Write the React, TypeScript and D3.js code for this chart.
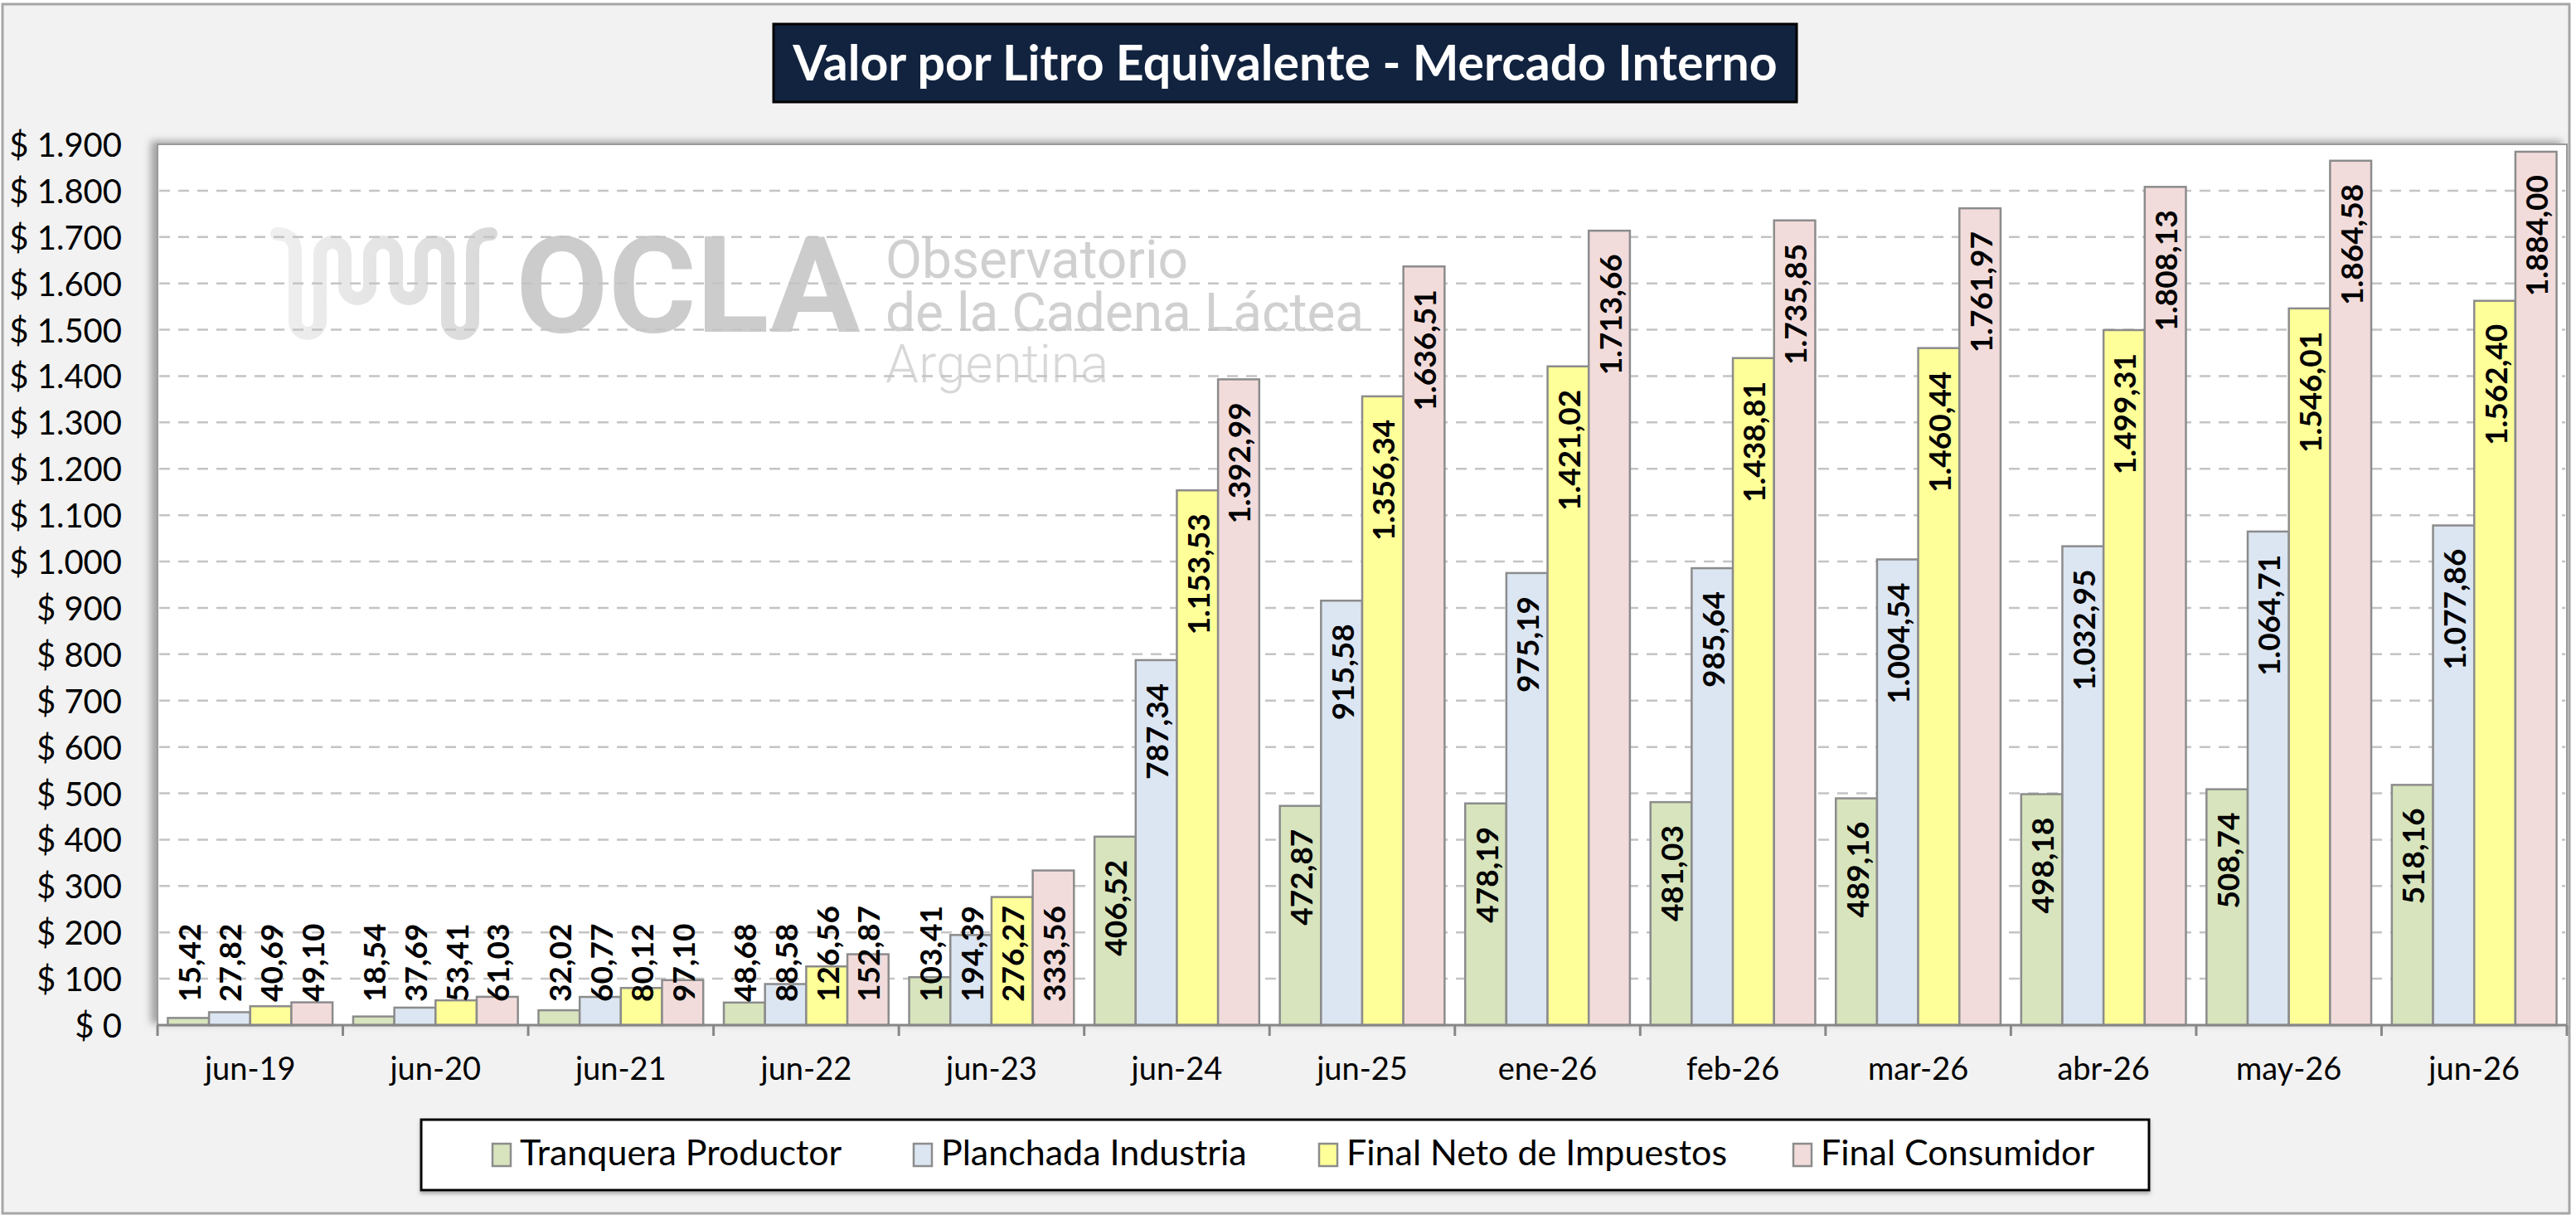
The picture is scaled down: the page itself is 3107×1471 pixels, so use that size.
import React from 'react';
import * as d3 from 'd3';

const categories = ['jun-19', 'jun-20', 'jun-21', 'jun-22', 'jun-23', 'jun-24', 'jun-25', 'ene-26', 'feb-26', 'mar-26', 'abr-26', 'may-26', 'jun-26'];
const seriesNames = ['Tranquera Productor', 'Planchada Industria', 'Final Neto de Impuestos', 'Final Consumidor'];
const tranquera = [15.42, 18.54, 32.02, 48.68, 103.41, 406.52, 472.87, 478.19, 481.03, 489.16, 498.18, 508.74, 518.16];
const planchada = [27.82, 37.69, 60.77, 88.58, 194.39, 787.34, 915.58, 975.19, 985.64, 1004.54, 1032.95, 1064.71, 1077.86];
const finalNeto = [40.69, 53.41, 80.12, 126.56, 276.27, 1153.53, 1356.34, 1421.02, 1438.81, 1460.44, 1499.31, 1546.01, 1562.4];
const finalConsumidor = [49.1, 61.03, 97.1, 152.87, 333.56, 1392.99, 1636.51, 1713.66, 1735.85, 1761.97, 1808.13, 1864.58, 1884.0];
const labelPlacement = ['base', 'base', 'base', 'base', 'base', 'end', 'end', 'end', 'end', 'end', 'end', 'end', 'end'];
const yTicks = [0, 100, 200, 300, 400, 500, 600, 700, 800, 900, 1000, 1100, 1200, 1300, 1400, 1500, 1600, 1700, 1800, 1900];
const seriesColors = ['#D7E4BD', '#DCE6F2', '#FFFF99', '#F2DCDB'];
const titleText = 'Valor por Litro Equivalente - Mercado Interno';

const W = 3107;
const H = 1471;
const plot = { left: 190, right: 3096, top: 174, bottom: 1236 };

const locale = d3.formatLocale({ decimal: ',', thousands: '.', grouping: [3], currency: ['$ ', ''] });
const fmtVal = locale.format(',.2f');
const fmtTick = locale.format(',.0f');

const CAL = 'Lato, "Open Sans", sans-serif';

function wavePath(): string {
  const p = d3.path();
  const T = 292, B = 402, M = 360;
  const legs = [356, 386, 416, 446, 478, 508, 540, 570];
  const bottoms = [B, M, M, B];
  p.moveTo(334, 282);
  p.quadraticCurveTo(356, 282, 356, 304);
  for (let i = 0; i < 4; i++) {
    const a = legs[2 * i];
    const b = legs[2 * i + 1];
    const r = (b - a) / 2;
    const yb = bottoms[i];
    p.lineTo(a, yb - r);
    p.arc(a + r, yb - r, r, Math.PI, 0, true);
    if (i < 3) {
      const c = legs[2 * i + 2];
      const r2 = (c - b) / 2;
      p.lineTo(b, T + r2);
      p.arc(b + r2, T + r2, r2, Math.PI, 0, false);
    } else {
      p.lineTo(b, 304);
      p.quadraticCurveTo(570, 282, 592, 282);
    }
  }
  return p.toString();
}

export default function App() {
  const x0 = d3.scaleBand<string>().domain(categories).range([plot.left, plot.right]).paddingInner(0).paddingOuter(0);
  const x1 = d3.scaleBand<string>().domain(seriesNames).range([0, x0.bandwidth()]).paddingInner(0).paddingOuter(0.25);
  const y = d3.scaleLinear().domain([0, 1900]).range([plot.bottom, plot.top]);
  const allSeries = [tranquera, planchada, finalNeto, finalConsumidor];

  const boundaries = categories.map((c) => x0(c) as number).concat([plot.right]);

  const legendX = [594, 1102, 1591, 2163];

  return (
    <div style={{ position: 'absolute', left: 0, top: 0 }}>
      <svg width={W} height={H} viewBox={`0 0 ${W} ${H}`} style={{ display: 'block' }}>
        <defs>
          <filter id="plotShadow" x="-5%" y="-5%" width="110%" height="110%">
            <feDropShadow dx={-7} dy={-3} stdDeviation={5} floodColor="#7f7f7f" floodOpacity={0.7} />
          </filter>
          <filter id="legShadow" x="-5%" y="-20%" width="110%" height="140%">
            <feDropShadow dx={0} dy={3} stdDeviation={2} floodColor="#808080" floodOpacity={0.6} />
          </filter>
          <linearGradient id="waveGrad" x1="0" x2="1" y1="0" y2="0">
            <stop offset="0" stopColor="#efefef" />
            <stop offset="1" stopColor="#d9d9d9" />
          </linearGradient>
        </defs>

        {/* chart area */}
        <rect x={3} y={5} width={3096} height={1458} fill="#F2F2F2" stroke="#A6A6A6" strokeWidth={3} />

        {/* plot area */}
        <rect x={plot.left} y={plot.top} width={plot.right - plot.left} height={plot.bottom - plot.top}
          fill="#FFFFFF" stroke="#9A9A9A" strokeWidth={2} filter="url(#plotShadow)" />

        {/* watermark */}
        <g>
          <path d={wavePath()} fill="none" stroke="url(#waveGrad)" strokeWidth={16} strokeLinecap="round" strokeLinejoin="round" />
          <text x={622} y={400} fontFamily="Roboto, sans-serif" fontWeight={700} fontSize={162} fill="#CCCCCC">OCLA</text>
          <text x={1068} y={335} fontFamily="Roboto, sans-serif" fontWeight={400} fontSize={64} fill="#D0D0D0">Observatorio</text>
          <text x={1068} y={399} fontFamily="Roboto, sans-serif" fontWeight={400} fontSize={64} fill="#D0D0D0">de la Cadena Láctea</text>
          <text x={1068} y={461} fontFamily="Roboto, sans-serif" fontWeight={300} fontSize={64} fill="#D8D8D8">Argentina</text>
        </g>

        {/* gridlines */}
        <g>
          {yTicks.filter((t) => t > 0 && t < 1900).map((t) => (
            <line key={t} x1={plot.left + 2} x2={plot.right - 2} y1={y(t)} y2={y(t)}
              stroke="#C4C4C4" strokeWidth={2.5} strokeDasharray="13 10" />
          ))}
        </g>

        {/* bars */}
        <g>
          {categories.map((c, ci) => (
            <g key={c} transform={`translate(${x0(c)},0)`}>
              {seriesNames.map((s, si) => {
                const v = allSeries[si][ci];
                const bx = x1(s) as number;
                return (
                  <rect key={s} x={bx} y={y(v)} width={x1.bandwidth()} height={y(0) - y(v)}
                    fill={seriesColors[si]} stroke="#8C8C8C" strokeWidth={2.5} />
                );
              })}
            </g>
          ))}
        </g>

        {/* axis */}
        <g>
          <line x1={plot.left} x2={plot.right} y1={plot.bottom} y2={plot.bottom} stroke="#878787" strokeWidth={3} />
          {boundaries.map((bx, i) => (
            <line key={i} x1={bx} x2={bx} y1={plot.bottom} y2={plot.bottom + 13} stroke="#878787" strokeWidth={3} />
          ))}
          {categories.map((c) => (
            <text key={c} x={(x0(c) as number) + x0.bandwidth() / 2} y={1302} textAnchor="middle"
              fontFamily={CAL} fontSize={38} fill="#000">{c}</text>
          ))}
          {yTicks.map((t) => (
            <text key={t} x={147} y={y(t)} textAnchor="end" dominantBaseline="central"
              fontFamily={CAL} fontSize={40} fill="#000">{'$ ' + fmtTick(t)}</text>
          ))}
        </g>

        {/* data labels */}
        <g>
          {categories.map((c, ci) => seriesNames.map((s, si) => {
            const v = allSeries[si][ci];
            const cx = (x0(c) as number) + (x1(s) as number) + x1.bandwidth() / 2;
            const atBase = labelPlacement[ci] === 'base';
            const ty = atBase ? y(0) - 28 : y(v) + 28;
            return (
              <text key={c + s} transform={`translate(${cx},${ty}) rotate(-90)`}
                textAnchor={atBase ? 'start' : 'end'} dominantBaseline="central"
                fontFamily={CAL} fontWeight={700} fontSize={37} fill="#000">
                {fmtVal(v)}
              </text>
            );
          }))}
        </g>

        {/* title */}
        <g>
          <rect x={933} y={29} width={1234} height={94} fill="#12233F" stroke="#000" strokeWidth={3} />
          <text x={1550} y={97} textAnchor="middle" fontFamily={CAL} fontWeight={700} fontSize={59} fill="#FFFFFF">{titleText}</text>
        </g>

        {/* legend */}
        <g>
          <rect x={508} y={1350} width={2084} height={85} fill="#FFFFFF" stroke="#000" strokeWidth={3} filter="url(#legShadow)" />
          {seriesNames.map((s, si) => (
            <g key={s}>
              <rect x={legendX[si]} y={1379} width={22} height={27} fill={seriesColors[si]} stroke="#8C8C8C" strokeWidth={2.5} />
              <text x={legendX[si] + 33} y={1405} fontFamily={CAL} fontSize={43} fill="#000">{s}</text>
            </g>
          ))}
        </g>
      </svg>
    </div>
  );
}
